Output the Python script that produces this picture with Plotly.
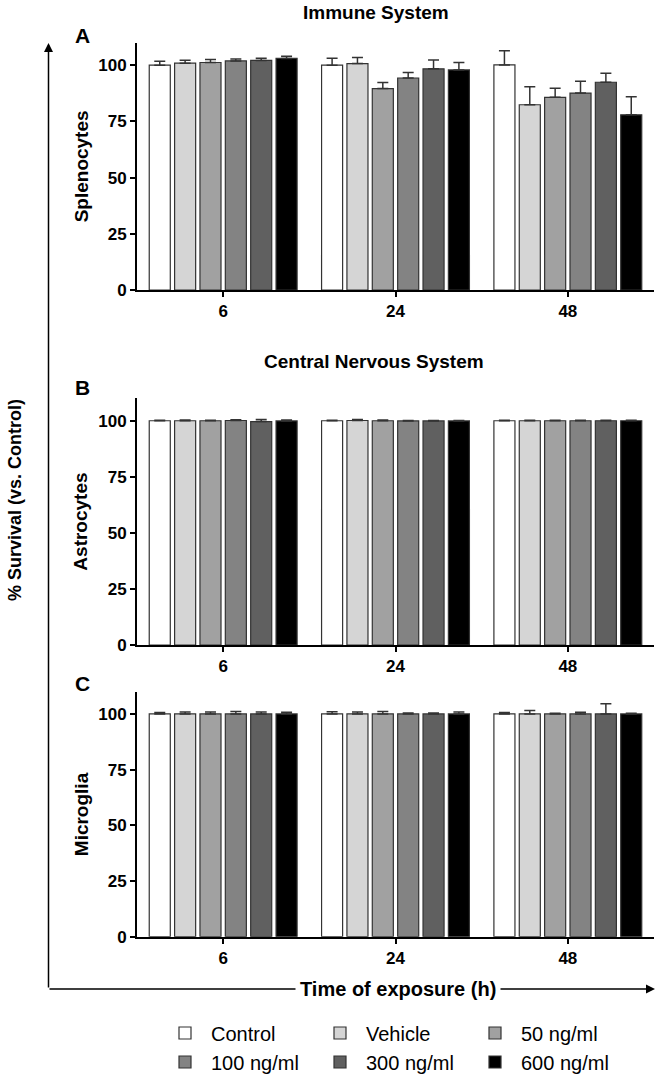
import plotly.graph_objects as go

W, H = 657, 1076

times = ["6", "24", "48"]
groups = ["Control", "Vehicle", "50 ng/ml", "100 ng/ml", "300 ng/ml", "600 ng/ml"]
colors = ["#ffffff", "#d5d5d5", "#a1a1a1", "#838383", "#606060", "#000000"]

# values per group, ordered by exposure time (6, 24, 48 h)
spleno_mean = [
    [100.0, 100.0, 100.1],
    [100.9, 100.7, 82.4],
    [101.2, 89.6, 85.7],
    [101.9, 94.3, 87.6],
    [102.1, 98.4, 92.4],
    [103.0, 97.9, 77.9],
]
spleno_err = [
    [1.8, 3.1, 6.3],
    [1.3, 2.7, 8.0],
    [1.3, 2.7, 4.0],
    [0.9, 2.5, 5.2],
    [1.0, 3.9, 4.0],
    [1.0, 3.3, 8.1],
]
astro_mean = [
    [100.0, 100.0, 100.0],
    [100.0, 100.1, 100.0],
    [100.0, 100.0, 100.0],
    [100.1, 99.9, 100.0],
    [99.6, 99.9, 100.0],
    [99.9, 99.9, 100.0],
]
astro_err = [
    [0.2, 0.2, 0.2],
    [0.3, 0.4, 0.2],
    [0.2, 0.3, 0.2],
    [0.3, 0.2, 0.2],
    [1.0, 0.2, 0.2],
    [0.4, 0.2, 0.2],
]
micro_mean = [
    [100.0, 100.0, 100.0],
    [100.0, 100.0, 100.0],
    [100.0, 100.0, 100.0],
    [100.0, 100.0, 100.0],
    [100.0, 100.0, 100.0],
    [100.0, 100.0, 100.0],
]
micro_err = [
    [0.7, 1.0, 0.7],
    [0.9, 0.9, 1.6],
    [0.9, 1.1, 0.3],
    [1.1, 0.4, 0.8],
    [0.9, 0.4, 4.6],
    [0.8, 0.9, 0.3],
]

panel_titles = ["Immune System", "Central Nervous System"]
panel_letters = ["A", "B", "C"]
cell_labels = ["Splenocytes", "Astrocytes", "Microglia"]
y_ticks = [0, 25, 50, 75, 100]

FONT = "Liberation Sans"

def px_y(p):
    return 1 - p / H

def px_x(p):
    return p / W

fig = go.Figure()

panels = [(spleno_mean, spleno_err), (astro_mean, astro_err), (micro_mean, micro_err)]
for pi, (means, errs) in enumerate(panels):
    sfx = "" if pi == 0 else str(pi + 1)
    for gi, g in enumerate(groups):
        fig.add_trace(go.Bar(
            x=times, y=means[gi], name=g,
            xaxis="x" + sfx, yaxis="y" + sfx,
            marker=dict(color=colors[gi], line=dict(color="#333333", width=1.2)),
            error_y=dict(type="data", array=errs[gi], arrayminus=[0] * 3, symmetric=False,
                         color="#333333", thickness=1.5, width=5.5),
            showlegend=(pi == 0),
            legend="legend" if gi < 3 else "legend2",
        ))

# plot-area pixel extents (top, bottom) for each panel
panel_px = [(42.7, 290.0), (398.3, 645.0), (691.7, 936.7)]
x_dom = [px_x(137), px_x(654)]

axis_common = dict(showline=True, linecolor="black", linewidth=2, ticks="outside",
                   ticklen=5, tickwidth=2, tickcolor="black", showgrid=False, zeroline=False,
                   tickfont=dict(family=FONT, size=17, color="black", weight="bold"))

layout = dict(
    width=W, height=H, margin=dict(l=0, r=0, t=0, b=0, autoexpand=False),
    paper_bgcolor="white", plot_bgcolor="white",
    barmode="group", bargap=0.117, bargroupgap=0.17,
    font=dict(family=FONT, color="black"),
)
for pi, (top, bot) in enumerate(panel_px):
    sfx = "" if pi == 0 else str(pi + 1)
    layout["xaxis" + sfx] = dict(axis_common, domain=x_dom, anchor="y" + sfx, type="category",
                                 range=[-0.5, 2.5], ticklabelstandoff=0)
    layout["yaxis" + sfx] = dict(axis_common, domain=[px_y(bot), px_y(top)], anchor="x" + sfx,
                                 range=[0, 110], tickvals=y_ticks)

legend_common = dict(orientation="h", xanchor="left", yanchor="middle", entrywidthmode="pixels",
                     entrywidth=98, itemwidth=42, font=dict(family=FONT, size=20, color="black"),
                     bgcolor="rgba(0,0,0,0)", traceorder="normal", itemclick=False)
layout["legend"] = dict(legend_common, x=px_x(159), y=px_y(1033))
layout["legend2"] = dict(legend_common, x=px_x(159), y=px_y(1062))

C = dict(xref="paper", yref="paper", xanchor="center", yanchor="middle", showarrow=False)
ann = []
# panel titles
ann.append(dict(C, text="<b>%s</b>" % panel_titles[0], x=px_x(376), y=px_y(12),
                font=dict(size=19, family=FONT)))
ann.append(dict(C, text="<b>%s</b>" % panel_titles[1], x=px_x(374), y=px_y(362),
                font=dict(size=19, family=FONT)))
# letters
for letter, yy in zip(panel_letters, [35, 388, 683]):
    ann.append(dict(C, text="<b>%s</b>" % letter, x=px_x(82), y=px_y(yy),
                    font=dict(size=21, family=FONT)))
# per-panel y titles
for lab, (top, bot) in zip(cell_labels, panel_px):
    ann.append(dict(C, text="<b>%s</b>" % lab, x=px_x(81), y=px_y((top + bot) / 2),
                    textangle=-90, font=dict(size=19, family=FONT)))
# big axis arrows
ann.append(dict(text="", x=px_x(48.5), y=px_y(43), xref="paper", yref="paper", showarrow=True,
                ax=0, ay=946, arrowhead=2, arrowsize=1.2, arrowwidth=1.5, arrowcolor="black"))
ann.append(dict(text="", x=px_x(655), y=px_y(989), xref="paper", yref="paper", showarrow=True,
                ax=-607, ay=0, arrowhead=2, arrowsize=1.2, arrowwidth=1.5, arrowcolor="black"))
ann.append(dict(C, text="<b>Time of exposure (h)</b>", x=px_x(398), y=px_y(989),
                bgcolor="white", borderpad=4, font=dict(size=20, family=FONT)))
ann.append(dict(C, text="<b>% Survival (vs. Control)</b>", x=px_x(15), y=px_y(500),
                textangle=-90, font=dict(size=18, family=FONT)))
layout["annotations"] = ann

fig.update_layout(**layout)
fig.write_html("out.html", config={"displayModeBar": False},
               post_script="document.body.style.margin='0';document.body.style.padding='0';")
